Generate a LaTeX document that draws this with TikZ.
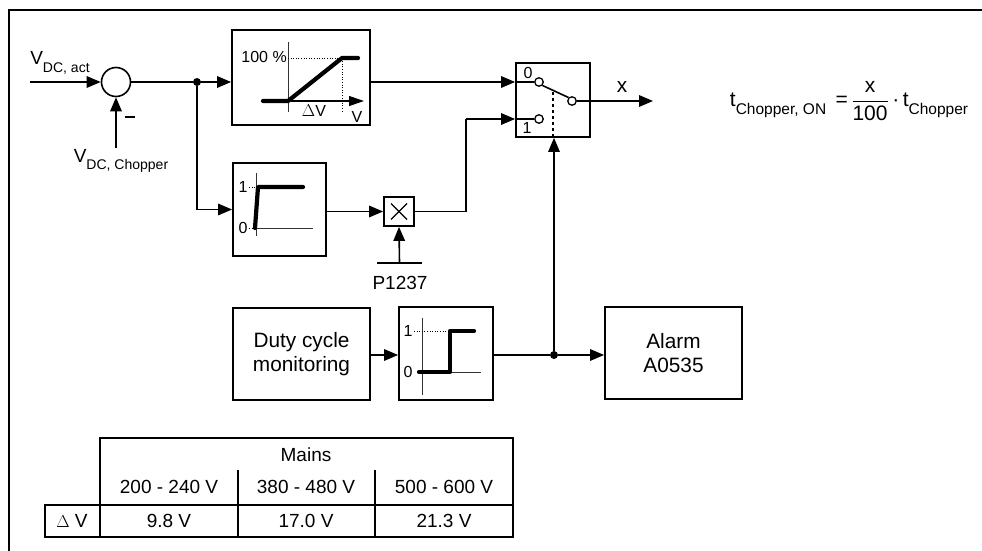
\documentclass[tikz,border=0pt]{standalone}
\usepackage{amsmath}
\usepackage{fontspec}
\setmainfont{Liberation Sans}
\usetikzlibrary{arrows.meta,calc}
\newcommand\mysub[1]{\raisebox{-0.4em}{\fontsize{14}{14}\selectfont #1}}
\newcommand\mysubb[1]{\raisebox{-0.4em}{\fontsize{15.5}{15.5}\selectfont #1}}
\begin{document}
\begin{tikzpicture}[x=1pt,y=-1pt,
  every node/.style={font=\fontsize{19}{23}\selectfont, inner sep=0pt},
  blk/.style={draw, line width=1.8pt, rectangle, align=center},
  big/.style={font=\fontsize{20.8}{24}\selectfont},
  con/.style={line width=1.6pt},
  arr/.style={line width=1.6pt, -{Triangle[length=14pt,width=11.5pt]}},
  axis/.style={line width=0.9pt, draw=black!80},
  thk/.style={line width=4.2pt, line cap=round, line join=round},
  dot/.style={line width=0.6pt, dotted},
  contact/.style={circle, draw, line width=1.3pt, fill=white, minimum size=8.5pt},
  jdot/.style={circle, fill, minimum size=8pt},
  small/.style={font=\fontsize{16}{18}\selectfont},
  tbl/.style={line width=1.1pt}]
\useasboundingbox (0,0) rectangle (982,551);
% frame
\draw[line width=2.5pt] (982,10) -- (9,10) -- (9,551);

% summing point
\node[circle, draw, line width=1.6pt, minimum size=29pt] (sum) at (116,82) {};
\node (vact) at (60,63) {V\mysub{DC, act}};
\coordinate (inA) at (30,82);
\draw[arr] (inA) -- (sum.west);
\coordinate (inB) at (116,148);
\draw[arr] (inB) -- (sum.south);
\node (vch) at (121,161) {V\mysub{DC, Chopper}};
\node (minus) at (130,117) {\rule{10pt}{1.6pt}};

% blocks
\node[blk, minimum width=138pt, minimum height=95pt] (ramp) at (301,77.5) {};
\node[blk, minimum width=74pt, minimum height=74pt] (sw) at (553,100) {};
\node[blk, minimum width=93pt, minimum height=93pt] (stepbox) at (279.5,209.5) {};
\node[blk, minimum width=30pt, minimum height=29pt] (mult) at (399,211.5) {};
\node[blk, big, minimum width=137pt, minimum height=92pt] (duty) at (301.5,354) {Duty cycle\\monitoring};
\node[blk, minimum width=94pt, minimum height=93pt] (comp) at (446,353.5) {};
\node[blk, big, minimum width=137pt, minimum height=92pt] (alarm) at (673.5,353) {Alarm\\A0535};

% multiplier cross
\draw[line width=1.3pt] ($(mult.center)+(-8,-8)$) -- ($(mult.center)+(8,8)$);
\draw[line width=1.3pt] ($(mult.center)+(-8,8)$) -- ($(mult.center)+(8,-8)$);

% junctions
\node[jdot] (j1) at (197,82) {};
\node[jdot] (j2) at (554,355) {};

% switch internals
\node[contact] (c0) at (539,82) {};
\node[contact] (c1) at (539,119) {};
\node[contact] (co) at (572,101) {};
\coordinate (in0) at (sw.west |- c0);
\coordinate (in1) at (sw.west |- c1);
\draw[con] (in0) -- (c0.west);
\draw[con] (in1) -- (c1.west);
\draw[con] (c0.south east) -- (co.north west);
\draw[line width=1.3pt, dashed] (553,92) -- (sw.south);
\node[small] (l0) at (528,73) {0};
\node[small] (l1) at (527,128) {1};
\coordinate (xout) at (653,101);
\draw[arr] (co.east) -- (xout);
\node[big] (xl) at (622,87) {x};

% connections
\draw[con] (sum.east) -- (j1);
\draw[arr] (j1) -- (in0 -| ramp.west);
\draw[arr] (in0 -| ramp.east) -- (in0);
\draw[arr] (j1) |- (stepbox.west);
\draw[arr] (stepbox.east |- mult) -- (mult.west);
\coordinate (bend) at (466,119);
\draw[con] (mult.east) -| (bend);
\draw[arr] (bend) -- (in1);
\coordinate (p1) at (377,263);
\coordinate (p2) at (422,263);
\draw[con] (p1) -- (p2);
\draw[arr] ($(p1)!0.5!(p2)$) -- (mult.south);
\node (p1237) at (400,283) {P1237};
\draw[arr] (duty.east |- j2) -- (comp.west |- j2);
\draw[con] (comp.east |- j2) -- (j2);
\draw[arr] (j2) -- (alarm.west |- j2);
\draw[arr] (j2) -- (j2 |- sw.south);

% ramp graph
\draw[axis] (288,42) -- (288,112);
\draw[line width=1.2pt, -{Triangle[length=15pt,width=10pt]}] (263,101) -- (364,101);
\draw[dot] (288,58) -- (342,58) -- (342,112);
\draw[thk] (263,101) -- (288,101) -- (342,58) -- (358,58);
\node[small, anchor=east] (pct) at (287,57) {100 \%};
\node[small] (dv) at (314,111) {$\Delta$V};
\node[small] (vv) at (357,117) {V};

% step graph
\draw[axis] (256,173) -- (256,236);
\draw[axis] (256,228) -- (313,228);
\draw[dot] (249,187) -- (258,187);
\draw[dot] (249,228) -- (256,228);
\draw[thk] (255,228) -- (258,187) -- (303,187);
\node[small] (s1) at (243,187) {1};
\node[small] (s0) at (243,228) {0};

% comparator graph
\draw[axis] (422,318) -- (422,395);
\draw[axis] (422,372) -- (481,372);
\draw[dot] (414,331) -- (450,331);
\draw[thk] (419,372) -- (450,372) -- (450,331) -- (474,331);
\node[small] (k1) at (408,331) {1};
\node[small] (k0) at (408,372) {0};

% formula
\node[font=\fontsize{21}{25}\selectfont] (formula) at (849,101) {t\mysubb{Chopper, ON} \,=\,$\dfrac{\text{x}}{\text{100}}$\,·\,t\mysubb{Chopper}};

% table
\draw[tbl] (100,438) rectangle (513,537);
\draw[tbl] (45,505) rectangle (100,537);
\draw[tbl] (100,505) -- (513,505);
\draw[tbl] (238,470) -- (238,537);
\draw[tbl] (375,470) -- (375,537);
\node (mains) at (306,455) {Mains};
\node (h1) at (169,487) {200 - 240 V};
\node (h2) at (306,487) {380 - 480 V};
\node (h3) at (444,487) {500 - 600 V};
\node (dvl) at (72,521) {$\Delta$ V};
\node (v1) at (169,521) {9.8 V};
\node (v2) at (306,521) {17.0 V};
\node (v3) at (444,521) {21.3 V};
\end{tikzpicture}
\end{document}
